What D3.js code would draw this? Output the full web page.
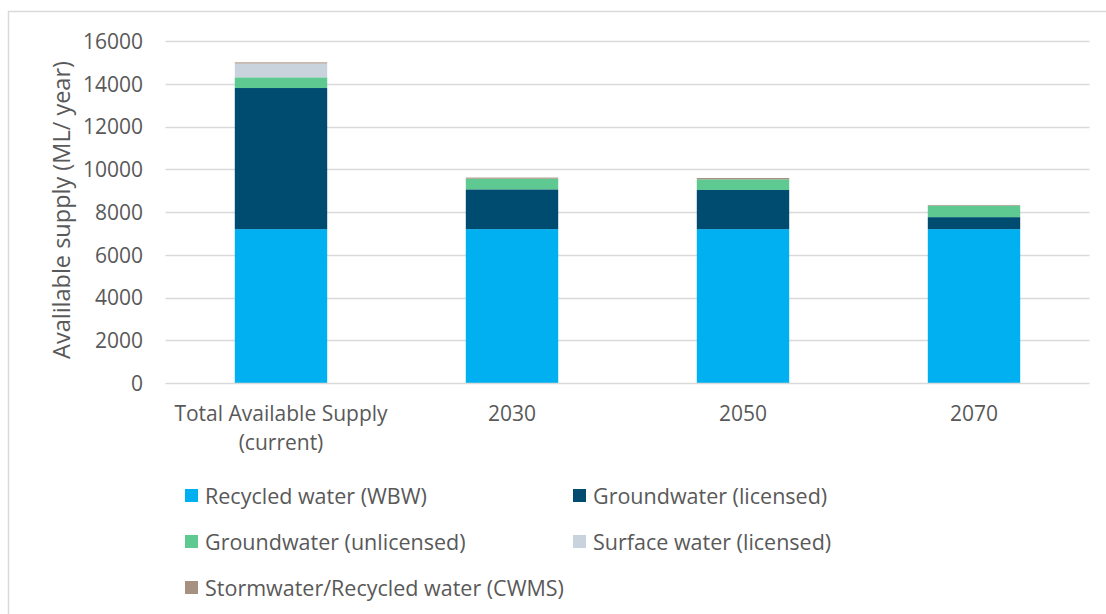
<!DOCTYPE html>
<html>
<head>
<meta charset="utf-8">
<script src="https://cdn.jsdelivr.net/npm/d3@7"></script>
<style>
  html, body { margin: 0; padding: 0; background: #fff; }
  svg { display: block; }
  text { font-family: "Open Sans", "Lato", sans-serif; fill: #595959; }
</style>
</head>
<body>
<svg id="chart" width="1106" height="614"></svg>
<script>
// Supply categories (x axis)
const categories = ["Total Available Supply (current)", "2030", "2050", "2070"];
const categoryLines = [["Total Available Supply", "(current)"], ["2030"], ["2050"], ["2070"]];

// Stacked series, ML per year, bottom to top
const seriesNames = [
  "Recycled water (WBW)",
  "Groundwater (licensed)",
  "Groundwater (unlicensed)",
  "Surface water (licensed)",
  "Stormwater/Recycled water (CWMS)"
];
const recycledWBW        = [7200, 7200, 7200, 7200];
const groundLicensed     = [6600, 1860, 1830, 560];
const groundUnlicensed   = [500, 500, 500, 540];
const surfaceLicensed    = [650, 0, 0, 0];
const stormwaterCWMS     = [50, 50, 60, 30];

const seriesColors = ["#00B0F0", "#004C70", "#5FC992", "#C8D3DE", "#A69080"];
const yTicks = [0, 2000, 4000, 6000, 8000, 10000, 12000, 14000, 16000];

const rows = categories.map((c, i) => ({
  category: c,
  [seriesNames[0]]: recycledWBW[i],
  [seriesNames[1]]: groundLicensed[i],
  [seriesNames[2]]: groundUnlicensed[i],
  [seriesNames[3]]: surfaceLicensed[i],
  [seriesNames[4]]: stormwaterCWMS[i]
}));

const svg = d3.select("#chart");
const W = 1106, H = 614;

// outer chart frame
svg.append("path")
  .attr("d", `M8.5,${H} V11.5 H${W}`)
  .attr("fill", "none")
  .attr("stroke", "#D9D9D9")
  .attr("stroke-width", 1.5);

const plot = { left: 165.5, right: 1089.5, top: 41, bottom: 383 };

const x = d3.scaleBand()
  .domain(categories)
  .range([plot.left, plot.right])
  .paddingInner(0.6)
  .paddingOuter(0.3);

const y = d3.scaleLinear()
  .domain([0, 16000])
  .range([plot.bottom, plot.top]);

// gridlines
svg.append("g")
  .selectAll("line")
  .data(yTicks.slice(1))
  .join("line")
  .attr("x1", plot.left)
  .attr("x2", plot.right)
  .attr("y1", d => Math.round(y(d)) + 0.5)
  .attr("y2", d => Math.round(y(d)) + 0.5)
  .attr("stroke", "#D9D9D9")
  .attr("stroke-width", 1.3);

// stacked bars
const stack = d3.stack().keys(seriesNames);
const layers = stack(rows);

svg.append("g")
  .selectAll("g")
  .data(layers)
  .join("g")
  .attr("fill", (d, i) => seriesColors[i])
  .selectAll("rect")
  .data(d => d)
  .join("rect")
  .attr("x", d => x(d.data.category))
  .attr("width", x.bandwidth())
  .attr("y", d => y(d[1]))
  .attr("height", d => y(d[0]) - y(d[1]));

// baseline
svg.append("line")
  .attr("x1", plot.left)
  .attr("x2", plot.right)
  .attr("y1", plot.bottom + 0.5)
  .attr("y2", plot.bottom + 0.5)
  .attr("stroke", "#D9D9D9")
  .attr("stroke-width", 1.3);

// y tick labels
const yAxis = d3.axisLeft(y).tickValues(yTicks).tickFormat(d3.format("d")).tickSize(0).tickPadding(0);
const yg = svg.append("g").attr("transform", "translate(143,0)").call(yAxis);
yg.select(".domain").remove();
yg.selectAll("text")
  .attr("font-size", 21)
  .attr("font-family", "'Open Sans', Lato, sans-serif")
  .attr("fill", "#595959")
  .attr("dy", "0.35em");

// x category labels
const xg = svg.append("g");
categories.forEach((c, i) => {
  const t = xg.append("text")
    .attr("x", x(c) + x.bandwidth() / 2)
    .attr("y", 421)
    .attr("text-anchor", "middle")
    .attr("font-size", 21);
  categoryLines[i].forEach((line, j) => {
    t.append("tspan")
      .attr("x", x(c) + x.bandwidth() / 2)
      .attr("dy", j === 0 ? 0 : 29)
      .text(line);
  });
});

// y axis title
svg.append("text")
  .attr("transform", "translate(70,210) rotate(-90)")
  .attr("text-anchor", "middle")
  .attr("font-size", 23.5)
  .text("Avalilable supply (ML/ year)");

// legend
const legendPos = [
  { x: 185, y: 496 }, { x: 573, y: 496 },
  { x: 185, y: 542 }, { x: 573, y: 542 },
  { x: 185, y: 588 }
];
const lg = svg.append("g");
seriesNames.forEach((name, i) => {
  const p = legendPos[i];
  lg.append("rect")
    .attr("x", p.x)
    .attr("y", p.y - 7)
    .attr("width", 13)
    .attr("height", 13)
    .attr("fill", seriesColors[i]);
  lg.append("text")
    .attr("x", p.x + 20)
    .attr("y", p.y)
    .attr("dy", "0.35em")
    .attr("font-size", 21.5)
    .text(name);
});
</script>
</body>
</html>
